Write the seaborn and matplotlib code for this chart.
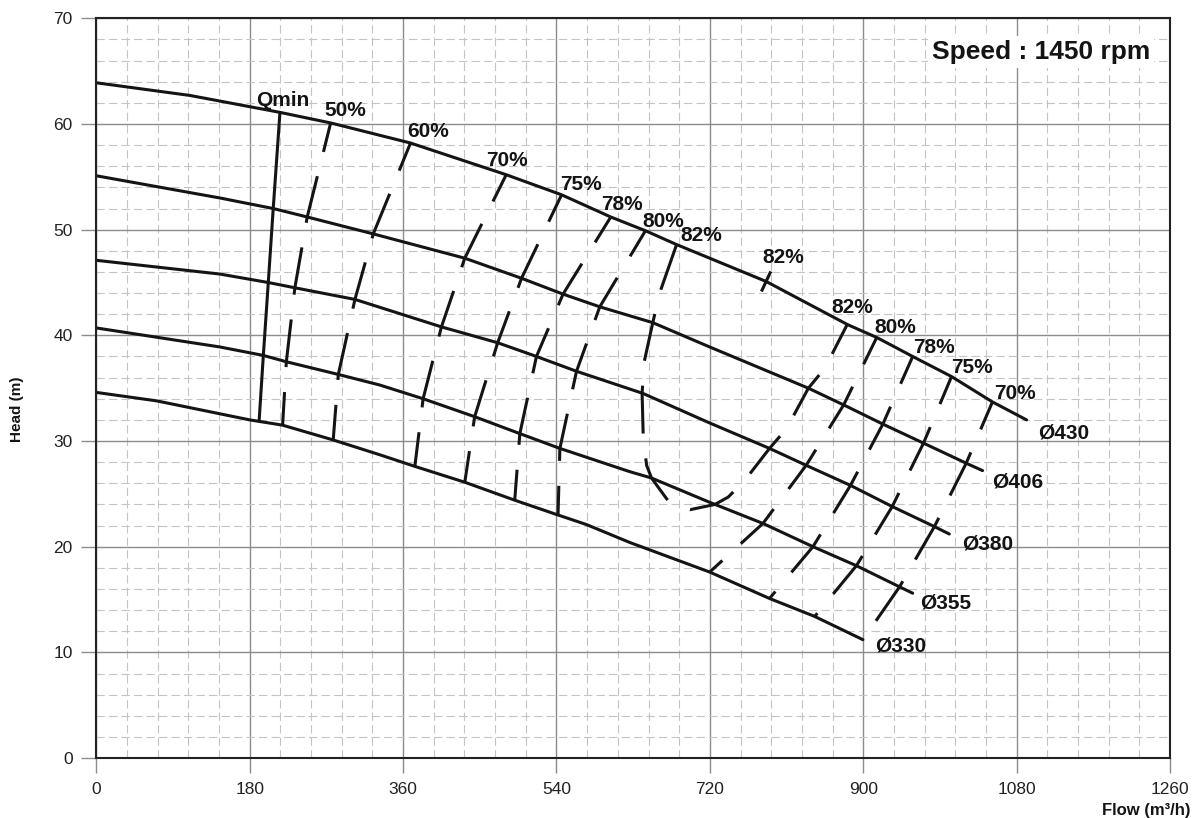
import numpy as np
import pandas as pd
import matplotlib
matplotlib.use("Agg")
import matplotlib.pyplot as plt
from matplotlib.ticker import MultipleLocator
import seaborn as sns

sns.set_theme(style="white")
plt.rcParams["font.family"] = ["Liberation Sans", "DejaVu Sans"]
plt.rcParams["lines.scale_dashes"] = False

# ---- Head curves (flow m3/h, head m) per impeller diameter ----
DIAMETERS = ["Ø430", "Ø406", "Ø380", "Ø355", "Ø330"]

FLOW_430 = [0, 110, 215.5, 275, 368.7, 481, 546, 603.7, 644.4, 680.7, 786, 882, 915.8, 958, 1003.6, 1051.6, 1091.6]
HEAD_430 = [63.9, 62.7, 61.1, 60.1, 58.2, 55.2, 53.3, 51.2, 49.9, 48.6, 45.1, 41.0, 39.8, 38.0, 36.1, 33.7, 32.0]

FLOW_406 = [0, 145, 207.6, 247.5, 325, 432.4, 499, 547.7, 590.8, 653, 719.8, 835.6, 880, 923, 970.7, 1020.8, 1040]
HEAD_406 = [55.1, 53.0, 52.0, 51.2, 49.6, 47.3, 45.4, 43.9, 42.7, 41.2, 38.9, 35.0, 33.3, 31.6, 29.8, 27.9, 27.2]

FLOW_380 = [0, 145, 201.8, 233, 303.5, 405, 471, 516.5, 563.5, 641.6, 720, 790, 833, 885, 934, 983.5, 1001]
HEAD_380 = [47.1, 45.8, 45.0, 44.5, 43.4, 40.8, 39.3, 38.0, 36.6, 34.5, 31.7, 29.3, 27.7, 25.8, 23.8, 21.9, 21.2]

FLOW_355 = [0, 145, 196, 223, 284, 332.6, 383.5, 444, 497, 544, 626, 651.5, 719.8, 782.3, 841, 892, 942.6, 958]
HEAD_355 = [40.7, 38.9, 38.1, 37.5, 36.3, 35.3, 34.0, 32.3, 30.7, 29.3, 27.1, 26.5, 24.2, 22.2, 20.0, 18.2, 16.2, 15.6]

FLOW_330 = [0, 70.8, 180, 218.6, 278, 332.6, 373.8, 432.4, 491, 541.8, 575, 626, 719.8, 790, 843, 899.6]
HEAD_330 = [34.6, 33.8, 32.0, 31.5, 30.1, 28.7, 27.6, 26.1, 24.4, 23.0, 22.1, 20.4, 17.6, 15.1, 13.4, 11.2]

CURVE_FLOWS = [FLOW_430, FLOW_406, FLOW_380, FLOW_355, FLOW_330]
CURVE_HEADS = [HEAD_430, HEAD_406, HEAD_380, HEAD_355, HEAD_330]

# ---- Minimum flow and iso-efficiency lines: flow where each crosses Ø430..Ø330 ----
QMIN_FLOW = [215.5, 207.6, 201.8, 196, 191]
EFF_50 = [275, 247.5, 233, 223, 218.6]
EFF_60 = [368.7, 325, 303.5, 284, 278]
EFF_70_L = [481, 432.4, 405, 383.5, 373.8]
EFF_75_L = [546, 499, 471, 444, 432.4]
EFF_78_L = [603.7, 547.7, 516.5, 497, 491]
EFF_80_L = [644.4, 590.8, 563.5, 544, 541.8]
EFF_80_R = [915.8, 877, 833, 782.3, 719.8]
EFF_78_R = [958, 923, 885, 841, 790]
EFF_75_R = [1003.6, 970.7, 934, 892, 843]
EFF_70_R = [1051.6, 1020.8, 983.5, 942.6, 899.6]

# 82 % efficiency island (closed loop below Ø430)
EFF_82_FLOW = [681, 661.5, 653, 642.7, 640.5, 641.9, 645.8, 651.5, 673.2, 696.7,
               726, 741.6, 761.2, 790, 810.2, 835.6, 855, 881]
EFF_82_HEAD = [48.6, 44.1, 41.2, 37.4, 34.5, 30.1, 27.7, 26.5, 24.1, 23.5,
               24.0, 24.7, 26.3, 29.3, 31.2, 35.0, 36.9, 41.0]

BEP_FLOW = 786  # best efficiency point marked on Ø430

EFF_LINES = [EFF_50, EFF_60, EFF_70_L, EFF_75_L, EFF_78_L, EFF_80_L,
             EFF_80_R, EFF_78_R, EFF_75_R, EFF_70_R]

# Labels along Ø430: text, flow of anchor on Ø430, offset in points
TOP_LABELS = ["Qmin", "50%", "60%", "70%", "75%", "78%", "80%", "82%",
              "82%", "82%", "80%", "78%", "75%", "70%"]
TOP_LABEL_FLOWS = [QMIN_FLOW[0], EFF_50[0], EFF_60[0], EFF_70_L[0], EFF_75_L[0],
                   EFF_78_L[0], EFF_80_L[0], EFF_82_FLOW[0], BEP_FLOW,
                   EFF_82_FLOW[-1], EFF_80_R[0], EFF_78_R[0], EFF_75_R[0], EFF_70_R[0]]
TOP_LABEL_OFFSETS = [(-17.5, 4.8), (-4.3, 4.8), (-2.7, 4.0), (-14.2, 6.0), (-1.2, 3.6),
                     (-6.7, 4.8), (-2.2, 2.9), (2.4, 2.4), (-2.4, 13.0), (-11.1, 7.8),
                     (-1.9, 3.1), (0.0, 2.4), (0.0, 2.4), (1.2, 2.4)]
END_LABEL_OFFSETS = [(8.4, -13.2), (6.8, -12.0), (9.1, -11.5), (5.5, -11.2), (9.1, -8.4)]

X_TICKS = [0, 180, 360, 540, 720, 900, 1080, 1260]
Y_TICKS = [0, 10, 20, 30, 40, 50, 60, 70]

INK = "#141414"
LW = 2.2
EFF_DASH = (13, (34.5, 18))
ISLAND_DASH = (0, (34.5, 18))

fig = plt.figure(figsize=(11.95, 8.18), dpi=100)
ax = fig.add_axes([0.0806, 0.0733, 0.8985, 0.9043])

# grid
ax.set_xlim(X_TICKS[0], X_TICKS[-1])
ax.set_ylim(Y_TICKS[0], Y_TICKS[-1])
ax.set_xticks(X_TICKS)
ax.set_yticks(Y_TICKS)
ax.xaxis.set_minor_locator(MultipleLocator(36))
ax.yaxis.set_minor_locator(MultipleLocator(2))
ax.set_axisbelow(True)
ax.grid(which="major", color="#8c8c8c", lw=1.0, ls="-")
ax.grid(which="minor", color="#c4c4c4", lw=0.8, ls=(0, (6, 3)))
ax.tick_params(which="minor", length=0)
ax.tick_params(which="major", direction="out", length=11, width=1.0, color="#8c8c8c",
               bottom=True, left=True, labelsize=12.5, labelcolor="#222222", pad=6)
for sp in ax.spines.values():
    sp.set_color("#222222")
    sp.set_linewidth(1.5)

# head curves
df = pd.concat([pd.DataFrame({"flow": f, "head": h, "diameter": d})
                for f, h, d in zip(CURVE_FLOWS, CURVE_HEADS, DIAMETERS)], ignore_index=True)
sns.lineplot(data=df, x="flow", y="head", units="diameter", estimator=None, sort=False,
             color=INK, lw=LW, ax=ax, legend=False)


def heads_on_curves(flows):
    return [np.interp(q, f, h) for q, f, h in zip(flows, CURVE_FLOWS, CURVE_HEADS)]


# minimum flow line
ax.plot(QMIN_FLOW, heads_on_curves(QMIN_FLOW), color=INK, lw=LW, solid_capstyle="butt")

# iso-efficiency lines
for flows in EFF_LINES:
    ax.plot(flows, heads_on_curves(flows), color=INK, lw=LW, ls=EFF_DASH,
            dash_capstyle="butt")
ax.plot(EFF_82_FLOW, EFF_82_HEAD, color=INK, lw=LW, ls=ISLAND_DASH, dash_capstyle="butt")

# best efficiency tick
bep_h = np.interp(BEP_FLOW, FLOW_430, HEAD_430)
ax.plot([BEP_FLOW + 5.5, BEP_FLOW - 5.5], [bep_h + 0.95, bep_h - 0.95], color=INK, lw=LW,
        solid_capstyle="butt")

# labels along the top curve
for text, q, (dx, dy) in zip(TOP_LABELS, TOP_LABEL_FLOWS, TOP_LABEL_OFFSETS):
    ax.annotate(text, (q, np.interp(q, FLOW_430, HEAD_430)), xytext=(dx, dy),
                textcoords="offset points", ha="left", va="baseline",
                fontsize=15, fontweight="bold", color=INK)

# diameter labels at curve ends
for d, f, h, (dx, dy) in zip(DIAMETERS, CURVE_FLOWS, CURVE_HEADS, END_LABEL_OFFSETS):
    ax.annotate(d, (f[-1], h[-1]), xytext=(dx, dy), textcoords="offset points",
                ha="left", va="baseline", fontsize=15, fontweight="bold", color=INK)

ax.text(0.9814, 0.9545, "Speed : 1450 rpm", transform=ax.transAxes, ha="right",
        va="center", fontsize=19, fontweight="bold", color=INK, zorder=5,
        bbox=dict(facecolor="white", edgecolor="none", pad=3))

ax.set_xlabel("")
ax.set_ylabel("")
fig.text(17 / 1195, 1 - 409 / 818, "Head (m)", rotation=90, ha="center", va="center",
         fontsize=11, fontweight="bold", color=INK)
fig.text(1190 / 1195, 3.5 / 818, "Flow (m³/h)", ha="right", va="baseline",
         fontsize=12, fontweight="bold", color=INK)

fig.savefig("out.png", dpi=100)
